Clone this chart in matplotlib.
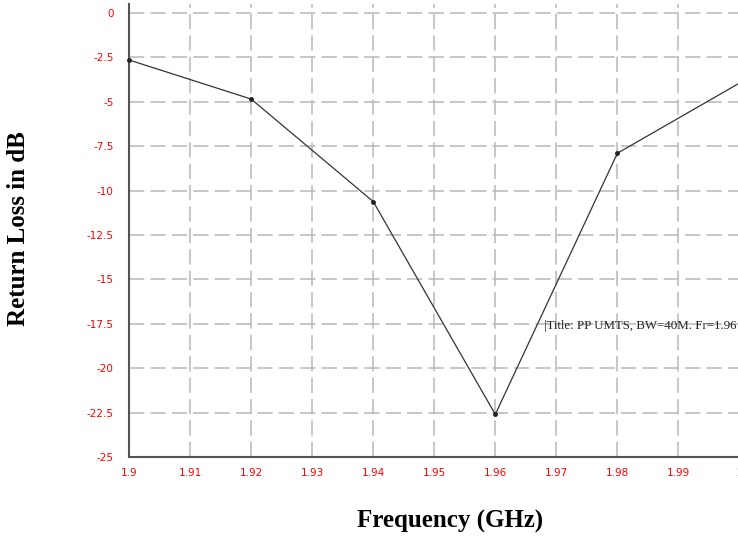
import matplotlib
matplotlib.use("Agg")
import matplotlib.pyplot as plt

freq = [1.90, 1.92, 1.94, 1.96, 1.98, 2.00]
return_loss = [-2.65, -4.85, -10.62, -22.6, -7.9, -3.95]
xticks = [1.9, 1.91, 1.92, 1.93, 1.94, 1.95, 1.96, 1.97, 1.98, 1.99, 2.0]
xtick_labels = ["1.9", "1.91", "1.92", "1.93", "1.94", "1.95", "1.96", "1.97", "1.98", "1.99", "2"]
yticks = [0, -2.5, -5, -7.5, -10, -12.5, -15, -17.5, -20, -22.5, -25]
ytick_labels = ["0", "-2.5", "-5", "-7.5", "-10", "-12.5", "-15", "-17.5", "-20", "-22.5", "-25"]

fig = plt.figure(figsize=(7.38, 5.40), dpi=100)
W, H = 738, 540
left, right, bottom, top = 129, 739.5, 457, 4
ax = fig.add_axes([left / W, 1 - bottom / H, (right - left) / W, (bottom - top) / H])

ax.plot(freq, return_loss, color="#333333", lw=0.9, marker="o", ms=2.5,
        mfc="#222222", mec="#222222", clip_on=False, zorder=3)

ax.set_xlim(1.9, 2.0)
ax.set_ylim(-25, 0.5)
ax.set_xticks(xticks)
ax.set_xticklabels(xtick_labels)
ax.set_yticks(yticks)
ax.set_yticklabels(ytick_labels)

for lab in ax.get_xticklabels() + ax.get_yticklabels():
    lab.set_fontfamily(["Liberation Sans Narrow", "DejaVu Sans"])
    lab.set_fontsize(7.5)
    lab.set_color("red")
ax.tick_params(axis="both", length=0, pad=8)
ax.tick_params(axis="y", pad=11)

ax.grid(True, color="#b8b8b8", linestyle=(0, (10, 4)), lw=1.1)
ax.set_axisbelow(True)

for s in ["top", "right"]:
    ax.spines[s].set_visible(False)
for s in ["left", "bottom"]:
    ax.spines[s].set_color("#555555")
    ax.spines[s].set_linewidth(1.5)

ax.text(1.968, -17.6, "|Title: PP UMTS, BW=40M. Fr=1.96",
        family=["Liberation Serif", "DejaVu Serif"], size=9.3, color="#222222",
        ha="left", va="center")

fig.text(450 / W, 1 - 521 / H, "Frequency (GHz)", family=["Liberation Serif", "DejaVu Serif"],
         weight="bold", size=18, ha="center", va="center")
fig.text(19 / W, 1 - 229 / H, "Return Loss in dB", family=["Liberation Serif", "DejaVu Serif"],
         weight="bold", size=18, ha="center", va="center", rotation=90)

fig.savefig("out.png", dpi=100)
